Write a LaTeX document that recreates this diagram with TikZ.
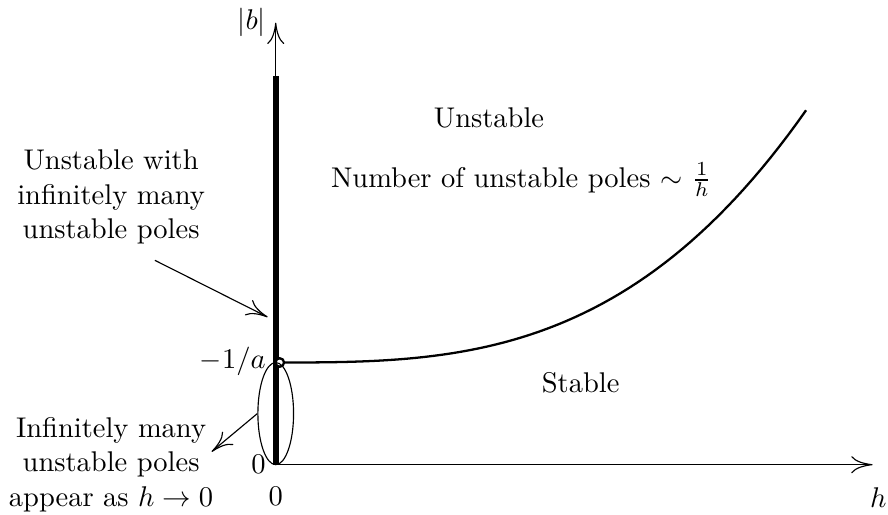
\documentclass[tikz,border=0pt]{standalone}
\usepackage{amsmath}
\usetikzlibrary{shapes.geometric,arrows.meta}
\begin{document}
\begin{tikzpicture}[>={To[length=7.5pt,width=6pt]},
    lbl/.style={align=center}]
  \useasboundingbox (-3.40,-0.62) rectangle (7.55,5.73);
  % axes
  \coordinate (O) at (0,0);
  \coordinate (hend) at (7.36,0);
  \coordinate (bend) at (0,5.45);
  \draw[->] (O) -- (hend);
  \draw[->] (O) -- (bend);
  \draw[line width=2pt] (O) -- (0,4.79);
  % stability boundary
  \draw[thick,domain=0.09:6.54,samples=60] plot (\x,{1.26+0.01112*\x*\x*\x});
  \node[circle,draw,thick,fill=white,inner sep=0pt,minimum size=3pt] (crit) at (0.05,1.26) {};
  \node[ellipse,draw,inner sep=0pt,minimum width=0.44cm,minimum height=1.26cm] (poles) at (0,0.63) {};
  % labels
  \node[left] (blab) at (bend) {$|b|$};
  \node[left] (alab) at (0,1.28) {$-1/a$};
  \node[left] (zlab) at (0,0) {$0$};
  \node (hzero) at (0,-0.39) {$0$};
  \node (hlab) at (7.43,-0.41) {$h$};
  \node (unst) at (2.63,4.27) {Unstable};
  \node (count) at (3.03,3.51) {Number of unstable poles $\sim$ $\frac{1}{h}$};
  \node (stab) at (3.76,1.01) {Stable};
  \node[lbl] (inf) at (-2.03,3.30) {Unstable with\\infinitely many\\unstable poles};
  \node[lbl] (appear) at (-2.03,0.0) {Infinitely many\\unstable poles\\appear as $h\to0$};
  % pointers
  \coordinate (infstart) at (-1.49,2.52);
  \coordinate (inftip) at (-0.10,1.82);
  \coordinate (apptip) at (-0.79,0.16);
  \draw[->] (infstart) -- (inftip);
  \draw[->] (poles.west) -- (apptip);
\end{tikzpicture}
\end{document}
